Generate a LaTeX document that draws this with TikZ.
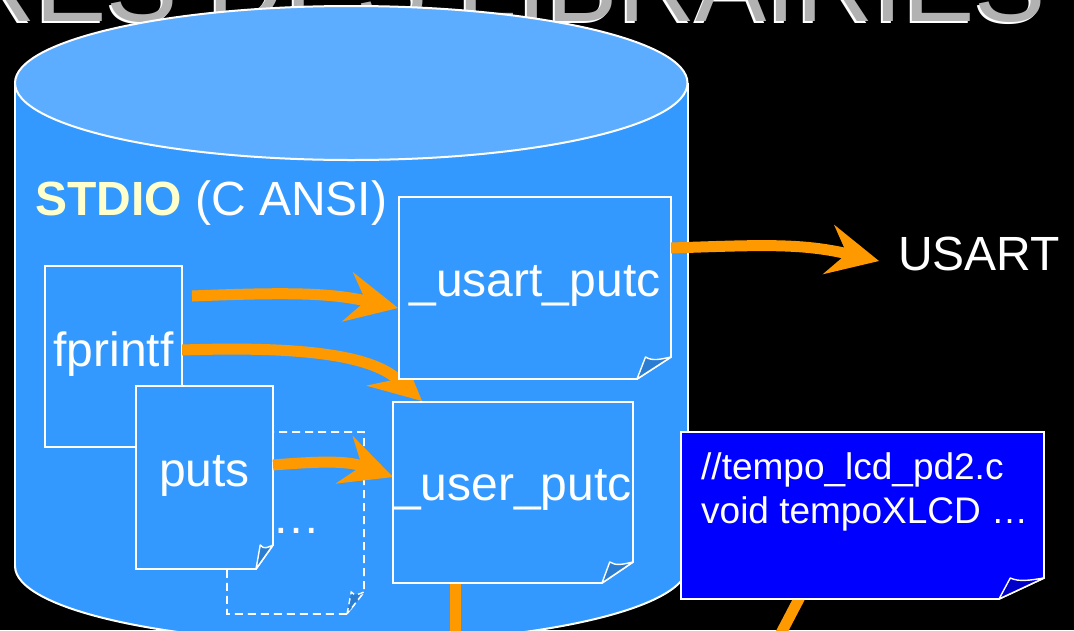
\documentclass[tikz,border=0pt]{standalone}
\usepackage{fontspec}
\setmainfont{Liberation Sans}
\usetikzlibrary{arrows.meta,calc}

\definecolor{cylbody}{HTML}{3399FF}
\definecolor{cyltop}{HTML}{5CADFF}
\definecolor{foldblue}{HTML}{2B7DD1}
\definecolor{notefill}{HTML}{0000FF}
\definecolor{notefold}{HTML}{0000C8}
\definecolor{flow}{HTML}{FF9900}
\definecolor{titlegrey}{HTML}{B2B2B2}
\definecolor{labelyellow}{HTML}{FFFFCC}

\tikzset{
  fn body/.style={fill=cylbody, draw=white, line width=1.8pt, line join=miter},
  fn flap/.style={fill=foldblue, draw=white, line width=1.4pt, line join=round},
  more body/.style={fill=cylbody, draw=white, line width=1.6pt, dash pattern=on 8pt off 5pt},
  more flap/.style={fill=foldblue, draw=white, line width=1.4pt, dash pattern=on 6pt off 4pt},
  lcd body/.style={fill=notefill, draw=white, line width=1.8pt},
  lcd flap/.style={fill=notefold, draw=white, line width=1.4pt, line join=round},
  frame/.style={inner sep=0pt, outer sep=0pt},
  boxtext/.style={inner sep=0pt, text=white, font=\fontsize{48}{48}\selectfont},
  notetext/.style={inner sep=0pt, text=white, font=\fontsize{37}{44}\selectfont},
  titletext/.style={inner sep=0pt, anchor=base west, font=\fontsize{107}{110}\selectfont},
  flowline/.style={draw=flow, line width=11pt},
  flowarrow/.style={flowline, -{Stealth[length=52pt, width=51pt, inset=19pt, line width=0pt]}},
}

% folded-corner sheet: style prefix, x1, y1, x2, y2, fold width, fold height
\newcommand\foldbox[7]{%
  \path[#1 body] (#2,#3) -- (#4,#3) -- (#4,#5-#7) -- (#4-#6,#5) -- (#2,#5) -- cycle;
  \path[#1 flap] (#4-#6,#5) -- (#4-0.75*#6,#5-#7)
    .. controls (#4-0.55*#6,#5-0.8*#7) and (#4-0.3*#6,#5-0.9*#7) .. (#4,#5-#7) -- cycle;
}

\begin{document}
\begin{tikzpicture}[x=1pt, y=-1pt]
\useasboundingbox (0,0) rectangle (1074,630);
\fill[black] (0,0) rectangle (1074,630);

% slide title with its white shadow
\node[titletext, text=white] (titleshadow) at (-44,23.5) {RES DES LIBRAIRIES};
\node[titletext, text=titlegrey] (title) at (-42,21) {RES DES LIBRAIRIES};

% library cylinder
\filldraw[fill=cylbody, draw=white, line width=2pt] (351.25,566) ellipse [x radius=336.25, y radius=77];
\fill[cylbody] (15,83) rectangle (687.5,566);
\draw[white, line width=2pt] (15,83) -- (15,566) (687.5,83) -- (687.5,566);
\filldraw[fill=cyltop, draw=white, line width=2pt] (351.25,83) ellipse [x radius=336.25, y radius=77];

\node[inner sep=0pt, anchor=base west, text=white, font=\fontsize{48}{48}\selectfont]
  (stdio) at (35,215) {\textbf{\color{labelyellow}STDIO} (C ANSI)};

% frames of the sheets
\node[frame, minimum width=137, minimum height=182] (more) at (295.5,523) {};
\node[frame, minimum width=137, minimum height=181] (fprintf) at (113.5,356.5) {};
\node[frame, minimum width=137, minimum height=183] (puts) at (204.5,477.5) {};
\node[frame, minimum width=272, minimum height=182] (usart) at (535,288) {};
\node[frame, minimum width=240, minimum height=181] (user) at (513,492.5) {};
\node[frame, minimum width=363, minimum height=167] (lcd) at (862.5,515.5) {};

% other output functions (dashed sheet)
\foldbox{more}{227}{432}{364}{614}{17}{22}
\node[boxtext, anchor=base] (moredots) at (296,533) {…};

% stdio functions
\foldbox{fn}{45}{266}{182}{447}{17}{24}
\node[boxtext] (fprintfname) at (113.5,354.5) {fprintf};
\foldbox{fn}{136}{386}{273}{569}{17}{24}
\node[boxtext] (putsname) at (204.5,476) {puts};

% calls into the put-character routines
\draw[flowarrow] ($(fprintf.north east)+(10,30)$) .. controls +(98,-4) and +(-68,-15) .. ($(usart.west)+(-1,20)$);
\draw[flowarrow] ($(fprintf.east)+(0,-6.5)$) .. controls +(118,-4) and +(-52,-46) .. ($(user.north west)+(29,-1)$);
\draw[flowarrow] ($(puts.east)+(0,-12.5)$) .. controls +(37,-3) and +(-48,-17) .. ($(user.west)+(0,-15.5)$);

% put-character routines
\foldbox{fn}{399}{197}{671}{379}{34}{22}
\node[boxtext] (usartname) at (535,285.5) {\_usart\_putc};
\foldbox{fn}{393}{402}{633}{583}{31}{21}
\node[boxtext] (username) at (513,489.5) {\_user\_putc};

% hardware output
\node[boxtext, anchor=base west] (usartout) at (898,270) {USART};
\draw[flowarrow] ($(usart.east)+(0,-40)$) .. controls +(89,-3) and +(-79,-18) .. ($(usartout.base west)+(-19,-9)$);

% links leaving towards the LCD code
\coordinate (userlink) at (455,660);
\coordinate (lcdlink) at (767,660);
\draw[flowline] ($(user.south west)+(62,0.8)$) -- (userlink);
\draw[flowline] ($(lcd.south west)+(120,-4)$) -- (lcdlink);

% LCD source sheet
\foldbox{lcd}{681}{432}{1044}{599}{45}{21}
\node[notetext, anchor=base west] (lcdfile) at (701,479) {//tempo\_lcd\_pd2.c};
\node[notetext, anchor=base west] (lcdfunc) at (701,523) {void tempoXLCD …};
\end{tikzpicture}
\end{document}
